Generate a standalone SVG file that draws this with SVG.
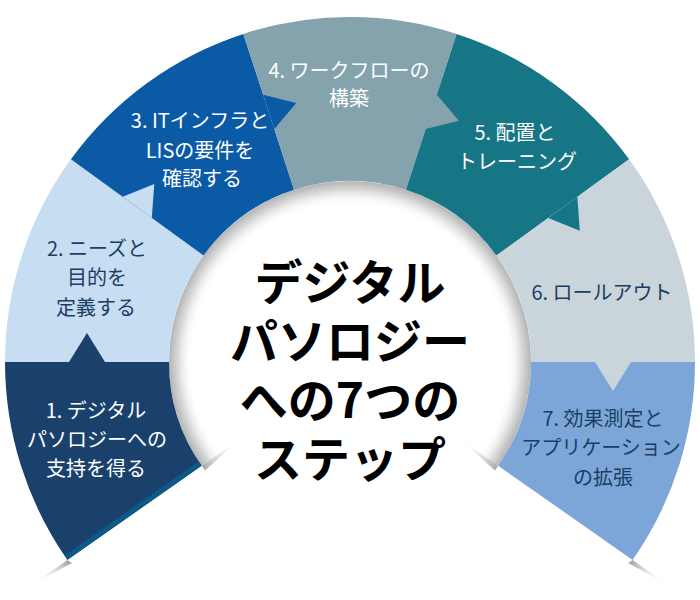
<svg xmlns="http://www.w3.org/2000/svg" width="700" height="600" viewBox="0 0 700 600">
<defs>
<style>
.lbl{font-family:"Noto Sans CJK JP","Noto Sans",sans-serif;font-size:20px;text-anchor:middle}
.w{fill:#ffffff}
.d{fill:#1d3d64}
.title{font-family:"Noto Sans CJK JP","Noto Sans",sans-serif;font-size:48px;font-weight:700;fill:#000;text-anchor:middle}
</style>
<radialGradient id="innerShadow" gradientUnits="userSpaceOnUse" cx="350" cy="362" r="181">
<stop offset="0.87" stop-color="#ffffff" stop-opacity="0"/>
<stop offset="0.95" stop-color="#dadada"/>
<stop offset="1" stop-color="#b4b4b4"/>
</radialGradient>
<linearGradient id="slLI" gradientUnits="userSpaceOnUse" x1="202" y1="466" x2="240" y2="440">
<stop offset="0" stop-color="#a8a8a8"/><stop offset="1" stop-color="#ffffff" stop-opacity="0"/>
</linearGradient>
<linearGradient id="slLO" gradientUnits="userSpaceOnUse" x1="67" y1="560" x2="33" y2="584">
<stop offset="0" stop-color="#a8a8a8"/><stop offset="1" stop-color="#ffffff" stop-opacity="0"/>
</linearGradient>
<linearGradient id="slRI" gradientUnits="userSpaceOnUse" x1="498" y1="466" x2="460" y2="440">
<stop offset="0" stop-color="#a8a8a8"/><stop offset="1" stop-color="#ffffff" stop-opacity="0"/>
</linearGradient>
<linearGradient id="slRO" gradientUnits="userSpaceOnUse" x1="633" y1="560" x2="667" y2="584">
<stop offset="0" stop-color="#a8a8a8"/><stop offset="1" stop-color="#ffffff" stop-opacity="0"/>
</linearGradient>
<clipPath id="seg1clip"><path d="M67.39 559.89 A345 345 0 0 1 5 362 L169 362 A181 181 0 0 0 201.73 465.82 Z"/></clipPath>
</defs>
<rect width="700" height="600" fill="#ffffff"/>

<g id="shadows">
<path d="M201.73 465.82 A181 181 0 1 1 498.27 465.82 L479.43 452.63 A158 158 0 1 0 220.57 452.63 Z" fill="url(#innerShadow)"/>
<polygon points="201.73,465.82 241,438.5 205,470.5" fill="url(#slLI)"/>
<polygon points="67.39,559.89 33,584 72,563" fill="url(#slLO)"/>
<polygon points="498.27,465.82 459,438.5 495,470.5" fill="url(#slRI)"/>
<polygon points="632.61,559.89 667,584 628,563" fill="url(#slRO)"/>
</g>

<g id="step1">
<path d="M67.39 559.89 A345 345 0 0 1 5 362 L169 362 A181 181 0 0 0 201.73 465.82 Z" fill="#1a416c"/>
<line x1="66" y1="557.5" x2="203" y2="461.6" stroke="#0c5a88" stroke-width="5" clip-path="url(#seg1clip)"/>
<text class="lbl w" x="96" y="418">1. デジタル</text>
<text class="lbl w" x="97" y="447">パソロジーへの</text>
<text class="lbl w" x="96" y="476">支持を得る</text>
</g>

<g id="step2">
<path d="M5 362 A345 345 0 0 1 70.89 159.21 L203.57 255.61 A181 181 0 0 0 169 362 Z" fill="#c6ddf2"/>
<text class="lbl d" x="97" y="256">2. ニーズと</text>
<text class="lbl d" x="97" y="285">目的を</text>
<text class="lbl d" x="96" y="315">定義する</text>
</g>

<g id="step3">
<path d="M70.89 159.21 A345 345 0 0 1 243.39 33.88 L294.07 189.86 A181 181 0 0 0 203.57 255.61 Z" fill="#0b5aa5"/>
<text class="lbl w" x="200" y="128">3. ITインフラと</text>
<text class="lbl w" x="200" y="158">LISの要件を</text>
<text class="lbl w" x="202" y="186">確認する</text>
</g>

<g id="step4">
<path d="M243.39 33.88 A345 345 0 0 1 456.61 33.88 L405.93 189.86 A181 181 0 0 0 294.07 189.86 Z" fill="#84a3ad"/>
<text class="lbl w" x="349" y="78">4. ワークフローの</text>
<text class="lbl w" x="349" y="106">構築</text>
</g>

<g id="step5">
<path d="M456.61 33.88 A345 345 0 0 1 629.11 159.21 L496.43 255.61 A181 181 0 0 0 405.93 189.86 Z" fill="#167686"/>
<text class="lbl w" x="515" y="140">5. 配置と</text>
<text class="lbl w" x="517" y="169">トレーニング</text>
</g>

<g id="step6">
<path d="M629.11 159.21 A345 345 0 0 1 695 362 L531 362 A181 181 0 0 0 496.43 255.61 Z" fill="#c9d5db"/>
<text class="lbl d" x="602" y="300">6. ロールアウト</text>
</g>

<g id="step7">
<path d="M695 362 A345 345 0 0 1 632.61 559.89 L498.27 465.82 A181 181 0 0 0 531 362 Z" fill="#7ba6d7"/>
<text class="lbl d" x="603" y="426">7. 効果測定と</text>
<text class="lbl d" x="601" y="455">アプリケーション</text>
<text class="lbl d" x="603" y="485">の拡張</text>
</g>

<g id="connectors">
<polygon points="69,362 87,333 105,362" fill="#1a416c"/>
<polygon points="122.67,196.83 154.28,183.95 151.79,217.99" fill="#c6ddf2"/>
<polygon points="263.17,94.75 296.31,102.91 274.29,128.99" fill="#0b5aa5"/>
<polygon points="436.83,94.75 458.85,120.83 425.71,128.99" fill="#84a3ad"/>
<polygon points="577.33,196.83 579.82,230.87 548.21,217.99" fill="#167686"/>
<polygon points="631,362 613,391 595,362" fill="#c9d5db"/>
</g>

<g id="center">
<text class="title" x="350" y="300">デジタル</text>
<text class="title" x="350" y="359">パソロジー</text>
<text class="title" x="350" y="418">への7つの</text>
<text class="title" x="350" y="477">ステップ</text>
</g>
</svg>
